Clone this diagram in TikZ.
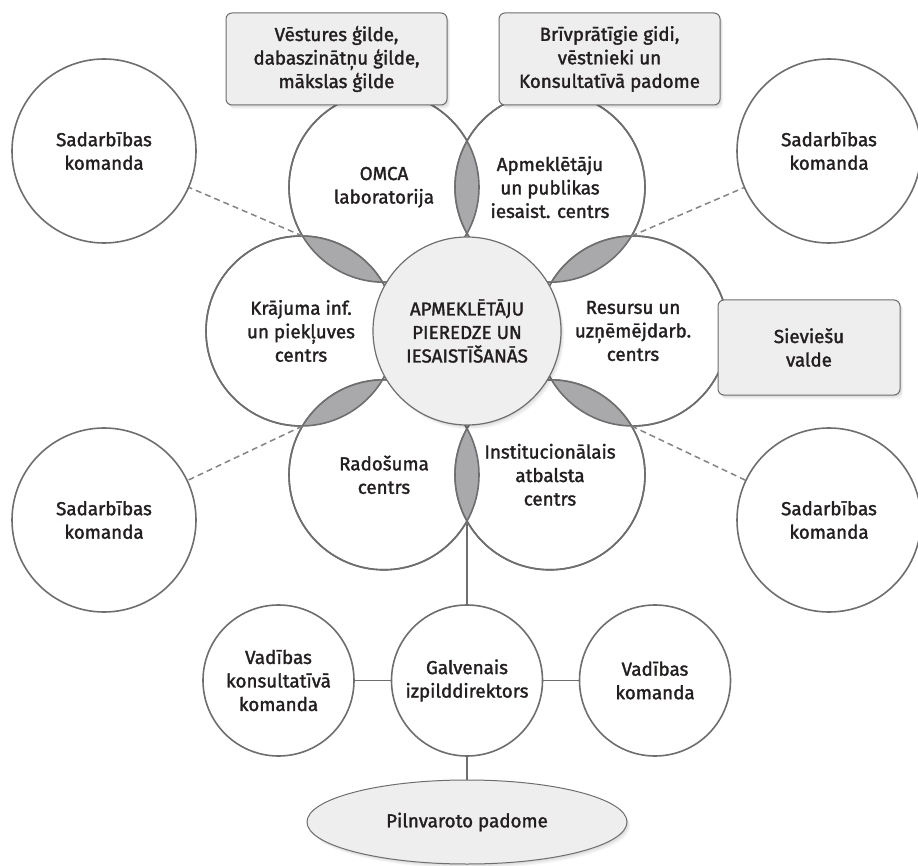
\documentclass[tikz,border=0pt]{standalone}
\usepackage{fontspec}
\setmainfont{Fira Sans}[FakeBold=1.6]
\usetikzlibrary{shapes.geometric,shadows}
\definecolor{ln}{HTML}{6E6E6E}
\definecolor{lensc}{HTML}{A9A9AB}
\definecolor{boxc}{HTML}{EEEEEE}
\definecolor{ctrc}{HTML}{EFEFEF}
\definecolor{txt}{HTML}{231F20}
\begin{document}
\begin{tikzpicture}[x=1pt,y=-1pt,
  every node/.style={text=txt, font=\fontsize{18.8}{23.5}\selectfont, align=center},
  softshadow/.style={
    general shadow={fill=black, opacity=0.04, shadow xshift=0.8pt, shadow yshift=-1pt},
    general shadow={fill=black, opacity=0.04, shadow xshift=1.6pt, shadow yshift=-2pt},
    general shadow={fill=black, opacity=0.04, shadow xshift=2.4pt, shadow yshift=-3.2pt},
    general shadow={fill=black, opacity=0.03, shadow xshift=3.2pt, shadow yshift=-4.4pt}},
  petal/.style={circle, draw=ln, line width=1.6pt, fill=white, minimum size=190pt, inner sep=0pt},
  outer/.style={circle, draw=ln, line width=1.6pt, fill=white, minimum size=184pt, inner sep=0pt},
  small/.style={circle, draw=ln, line width=1.6pt, fill=white, minimum size=151pt, inner sep=0pt},
  infobox/.style={rectangle, rounded corners=6pt, draw=ln, line width=1pt, fill=boxc, inner sep=0pt, softshadow},
  ring/.style={draw=ln, line width=1.6pt},
  lens/.style={fill=lensc},
  dashline/.style={draw=ln!85, line width=1.5pt, dash pattern=on 6pt off 4pt},
  link/.style={draw=ln, line width=1.6pt}]
\useasboundingbox (0,0) rectangle (918,866);
\fill[white] (0,0) rectangle (918,866);

% outer cooperation circles
\node[outer] (sadTL) at (104,151) {Sadarbības\\komanda};
\node[outer] (sadTR) at (829,151) {Sadarbības\\komanda};
\node[outer] (sadBL) at (104,520) {Sadarbības\\komanda};
\node[outer] (sadBR) at (829,520) {Sadarbības\\komanda};

% petals
\node[petal] (omca) at (384,187.2) {};
\node[petal] (apm) at (550,187.2) {};
\node[petal] (kraj) at (301,331) {};
\node[petal] (res) at (633,331) {};
\node[petal] (rad) at (384,474.8) {};
\node[petal] (inst) at (550,474.8) {};

% lenses
\begin{scope}\clip (omca.center) circle[radius=95]; \fill[lens] (apm.center) circle[radius=95];\end{scope}
\begin{scope}\clip (apm.center) circle[radius=95]; \fill[lens] (res.center) circle[radius=95];\end{scope}
\begin{scope}\clip (res.center) circle[radius=95]; \fill[lens] (inst.center) circle[radius=95];\end{scope}
\begin{scope}\clip (inst.center) circle[radius=95]; \fill[lens] (rad.center) circle[radius=95];\end{scope}
\begin{scope}\clip (rad.center) circle[radius=95]; \fill[lens] (kraj.center) circle[radius=95];\end{scope}
\begin{scope}\clip (kraj.center) circle[radius=95]; \fill[lens] (omca.center) circle[radius=95];\end{scope}
\foreach \p in {omca,apm,kraj,res,rad,inst} \draw[ring] (\p.center) circle[radius=95];

% petal labels
\node at (omca.center) {OMCA\\laboratorija};
\node at (apm.center) {Apmeklētāju\\un publikas\\iesaist. centrs};
\node at (kraj.center) {Krājuma inf.\\un piekļuves\\centrs};
\node at (res.center) {Resursu un\\uzņēmējdarb.\\centrs};
\node at (rad.center) {Radošuma\\centrs};
\node at (inst.center) {Institucionālais\\atbalsta\\centrs};

% centre
\node[circle, draw=ln, line width=1.2pt, fill=ctrc, minimum size=188pt, inner sep=0pt, softshadow] (ctr) at (467,331) {APMEKLĒTĀJU\\PIEREDZE UN\\IESAISTĪŠANĀS};

% lens tips
\coordinate (tipTL) at (302.5,236);
\coordinate (tipTR) at (631.5,236);
\coordinate (tipBL) at (302.5,426);
\coordinate (tipBR) at (631.5,426);
\coordinate (tipB) at (467,521);

\draw[dashline] (tipTL) -- (sadTL);
\draw[dashline] (tipTR) -- (sadTR);
\draw[dashline] (tipBL) -- (sadBL);
\draw[dashline] (tipBR) -- (sadBR);

% boxes
\node[infobox, minimum width=221pt, minimum height=92pt] (boxTL) at (336.5,59) {Vēstures ģilde,\\dabaszinātņu ģilde,\\mākslas ģilde};
\node[infobox, minimum width=221pt, minimum height=92pt] (boxTR) at (609.5,59) {Brīvprātīgie gidi,\\vēstnieki un\\Konsultatīvā padome};
\node[infobox, minimum width=182pt, minimum height=95pt] (boxSV) at (809,347.5) {Sieviešu\\valde};

% governance
\node[small] (galv) at (467,680.5) {Galvenais\\izpilddirektors};
\node[small] (vkons) at (278.5,680.5) {Vadības\\konsultatīvā\\komanda};
\node[small] (vkom) at (655,680.5) {Vadības\\komanda};
\node[ellipse, draw=ln, line width=1pt, fill=boxc, minimum width=320pt, minimum height=84pt, inner sep=0pt, softshadow] (pilnv) at (467,822) {Pilnvaroto padome};

\draw[link] (tipB) -- (galv);
\draw[link] (vkons) -- (galv);
\draw[link] (galv) -- (vkom);
\draw[link] (galv) -- (pilnv);
\end{tikzpicture}
\end{document}
